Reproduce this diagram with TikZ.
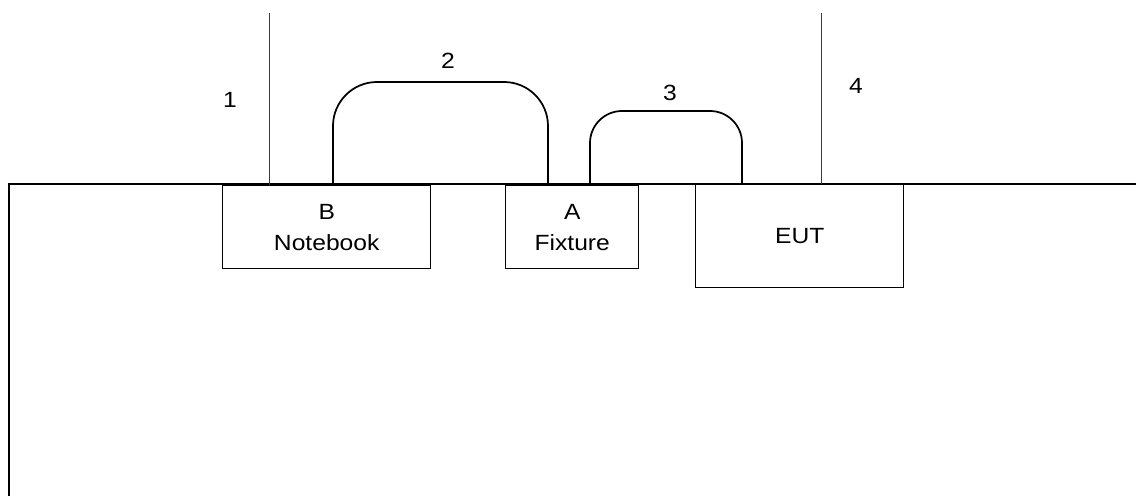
\documentclass[tikz,border=0pt]{standalone}
\usepackage{fontspec}
\setmainfont[FakeStretch=1.12]{Liberation Sans}

\tikzset{every picture/.style={line width=0.75pt}}
\tikzset{
  unitbox/.style={draw, line width=1.1pt, inner sep=0pt, anchor=north west, align=center,
    font=\fontsize{16.5}{23}\selectfont},
  cable/.style={line width=1.3pt},
  lead/.style={line width=0.6pt, color={rgb, 255:red, 60; green, 60; blue, 60 }},
  tag/.style={inner sep=0.75pt, font=\fontsize{16.5}{18}\selectfont}
}

\begin{document}
\begin{tikzpicture}[x=0.75pt,y=0.75pt,yscale=-1,xscale=1]
\useasboundingbox (0,0) rectangle (1136,496);

%Table top and edge
\draw [line width=1.7pt] (1136,184) -- (9,184) -- (9,496) ;

%Boxes
\node [unitbox, minimum width=156pt, minimum height=62.25pt] (notebook) at (222,185) {B\\Notebook};
\node [unitbox, minimum width=99.75pt, minimum height=62.25pt] (fixture) at (505,185) {A\\Fixture};
\node [unitbox, minimum width=156pt, minimum height=77.25pt] (eut) at (695,184) {EUT};

%Leads 1 and 4
\coordinate (top1) at (269,13);
\coordinate (top4) at (821,13);
\draw [lead] (top1) -- (top1 |- notebook.north) ;
\draw [lead] (top4) -- (top4 |- eut.north) ;

%Cable 2
\draw [cable, rounded corners=33pt] ([xshift=83.25pt]notebook.north west) |- (448,82) -| ([xshift=32.25pt]fixture.north west) ;
%Cable 3
\draw [cable, rounded corners=24pt] ([xshift=63.75pt]fixture.north west) |- (666,111) -| ([xshift=35.25pt]eut.north west) ;

% Text Node
\draw (230,100) node [tag] (n1) {1};
% Text Node
\draw (448,61) node [tag] (n2) {2};
% Text Node
\draw (670,93) node [tag] (n3) {3};
% Text Node
\draw (856,86) node [tag] (n4) {4};

\end{tikzpicture}
\end{document}
